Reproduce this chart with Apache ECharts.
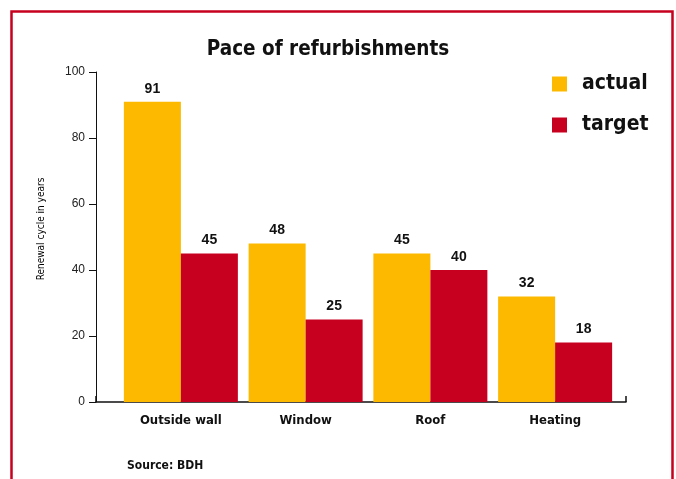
<!DOCTYPE html>
<html>
<head>
<meta charset="utf-8">
<script src="https://cdn.jsdelivr.net/npm/echarts@6/dist/echarts.min.js"></script>
<style>
  html, body { margin: 0; padding: 0; background: #fff; }
  #chart { width: 676px; height: 479px; }
</style>
</head>
<body>
<div id="chart"></div>
<script>
const categories = ['Outside wall', 'Window', 'Roof', 'Heating'];
const actual = [91, 48, 45, 32];
const target = [45, 25, 40, 18];
const yTicks = { min: 0, max: 100, interval: 20 };

const narrow = '"DejaVu Sans Condensed", "Liberation Sans", sans-serif';
const arial = '"Liberation Sans", Arial, sans-serif';
const yellow = '#FCB900';
const red = '#C8001F';

const chart = echarts.init(document.getElementById('chart'));

chart.setOption({
  animation: false,
  title: {
    text: 'Pace of refurbishments',
    left: 328,
    top: 39,
    padding: 0,
    textAlign: 'center',
    textStyle: { fontFamily: narrow, fontWeight: 'bold', fontSize: 20.5, color: '#111' }
  },
  legend: {
    orient: 'vertical',
    left: 552,
    top: 71,
    padding: 0,
    itemWidth: 15,
    itemHeight: 15,
    itemGap: 15,
    icon: 'rect',
    textStyle: { fontFamily: narrow, fontWeight: 'bold', fontSize: 21, lineHeight: 26, color: '#111', padding: [0, 0, 0, 10] },
    data: ['actual', 'target']
  },
  graphic: [
    {
      type: 'rect',
      shape: { x: 11.5, y: 11.5, width: 661, height: 480 },
      style: { fill: 'none', stroke: red, lineWidth: 2.5 }
    },
    {
      type: 'text',
      left: 127,
      top: 460,
      style: { text: 'Source: BDH', fontFamily: narrow, fontWeight: 'bold', fontSize: 12, fill: '#111' }
    }
  ],
  grid: [
    { left: 118.5, right: 58.5, top: 72, bottom: 77 },
    { left: 96, right: 50, top: 72, bottom: 77 }
  ],
  xAxis: [
    {
      type: 'category',
      gridIndex: 0,
      data: categories,
      axisLine: { show: false },
      axisTick: { show: false },
      axisLabel: { margin: 12, fontFamily: narrow, fontWeight: 'bold', fontSize: 13, color: '#111' }
    },
    {
      type: 'value',
      gridIndex: 1,
      min: 0,
      max: 1,
      interval: 1,
      axisLine: { lineStyle: { color: '#111', width: 1.5 } },
      axisTick: { inside: true, length: 6, lineStyle: { color: '#111', width: 1.5 } },
      axisLabel: { show: false },
      splitLine: { show: false }
    }
  ],
  yAxis: [
    {
      type: 'value',
      gridIndex: 0,
      min: yTicks.min,
      max: yTicks.max,
      interval: yTicks.interval,
      offset: 22.5,
      name: 'Renewal cycle in years',
      nameLocation: 'middle',
      nameGap: 50,
      nameTextStyle: { fontFamily: narrow, fontSize: 10, color: '#000', padding: [0, 0, 0, 16] },
      axisLine: { show: true, lineStyle: { color: '#111', width: 1 } },
      axisTick: { show: true, length: 7, lineStyle: { color: '#111' } },
      axisLabel: { margin: 11, fontFamily: arial, fontSize: 12, color: '#222' },
      splitLine: { show: false }
    },
    { type: 'value', gridIndex: 1, min: 0, max: 1, show: false }
  ],
  series: [
    {
      name: 'actual',
      type: 'bar',
      data: actual,
      barWidth: 57,
      barGap: '0%',
      itemStyle: { color: yellow },
      label: { show: true, position: 'top', distance: 6, fontFamily: arial, fontWeight: 'bold', fontSize: 14, color: '#111' }
    },
    {
      name: 'target',
      type: 'bar',
      data: target,
      barWidth: 57,
      barGap: '0%',
      itemStyle: { color: red },
      label: { show: true, position: 'top', distance: 6, fontFamily: arial, fontWeight: 'bold', fontSize: 14, color: '#111' }
    }
  ]
});
</script>
</body>
</html>
